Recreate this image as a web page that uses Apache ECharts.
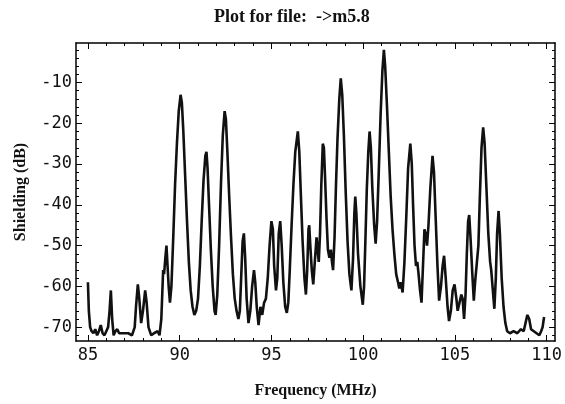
<!DOCTYPE html>
<html>
<head>
<meta charset="utf-8">
<script src="https://cdn.jsdelivr.net/npm/echarts@6/dist/echarts.min.js"></script>
<style>
  html, body { margin: 0; padding: 0; background: #fff; }
  #chart { width: 565px; height: 404px; }
</style>
</head>
<body>
<div id="chart"></div>
<script>
// frequency (MHz) and shielding (dB)
const freq = [
  85.0, 85.05, 85.12, 85.2, 85.3, 85.4, 85.5, 85.6, 85.7, 85.8, 85.9, 86.0, 86.1, 86.18, 86.25, 86.32, 86.4, 86.5,
  86.6, 86.7, 86.8, 87.0, 87.2, 87.4, 87.55, 87.62, 87.72, 87.8, 87.9, 88.0, 88.12, 88.2, 88.3, 88.45, 88.6, 88.8,
  88.9, 89.0, 89.05, 89.1, 89.15, 89.22, 89.28, 89.34, 89.4, 89.47, 89.55, 89.65, 89.75, 89.85, 89.95, 90.05, 90.12,
  90.2, 90.3, 90.4, 90.5, 90.6, 90.7, 90.8, 90.9, 91.0, 91.1, 91.2, 91.3, 91.4, 91.46, 91.52, 91.6, 91.7, 91.8, 91.9,
  91.96, 92.05, 92.15, 92.25, 92.35, 92.45, 92.52, 92.6, 92.7, 92.8, 92.9, 93.0, 93.1, 93.2, 93.28, 93.35, 93.43,
  93.5, 93.57, 93.65, 93.75, 93.85, 93.95, 94.05, 94.12, 94.2, 94.3, 94.4, 94.5, 94.6, 94.7, 94.8, 94.9, 95.0, 95.08,
  95.15, 95.25, 95.32, 95.4, 95.48, 95.56, 95.65, 95.75, 95.84, 95.92, 96.0, 96.1, 96.2, 96.3, 96.44, 96.52, 96.6,
  96.7, 96.8, 96.88, 96.95, 97.02, 97.06, 97.12, 97.2, 97.28, 97.38, 97.46, 97.52, 97.58, 97.65, 97.72, 97.8, 97.86,
  97.93, 98.0, 98.08, 98.16, 98.24, 98.3, 98.36, 98.44, 98.52, 98.6, 98.7, 98.78, 98.86, 98.95, 99.05, 99.15, 99.25,
  99.36, 99.45, 99.52, 99.57, 99.63, 99.72, 99.85, 99.98, 100.05, 100.12, 100.2, 100.28, 100.35, 100.42, 100.5,
  100.6, 100.68, 100.76, 100.85, 100.95, 101.05, 101.13, 101.2, 101.3, 101.4, 101.5, 101.6, 101.7, 101.8, 101.9,
  101.97, 102.05, 102.15, 102.25, 102.35, 102.45, 102.57, 102.65, 102.72, 102.8, 102.88, 102.95, 103.02, 103.1,
  103.18, 103.26, 103.34, 103.4, 103.48, 103.56, 103.66, 103.78, 103.86, 103.95, 104.05, 104.14, 104.24, 104.33,
  104.41, 104.5, 104.6, 104.68, 104.78, 104.88, 104.98, 105.08, 105.15, 105.25, 105.35, 105.42, 105.5, 105.58,
  105.65, 105.72, 105.78, 105.85, 105.95, 106.03, 106.1, 106.2, 106.28, 106.36, 106.45, 106.54, 106.62, 106.72,
  106.82, 106.92, 106.98, 107.05, 107.15, 107.23, 107.3, 107.38, 107.45, 107.55, 107.65, 107.75, 107.85, 108.0,
  108.2, 108.4, 108.6, 108.75, 108.85, 108.95, 109.05, 109.15, 109.3, 109.45, 109.6, 109.7, 109.78, 109.86
]
const shielding = [
  -59, -66, -70, -71, -71.5, -70.5, -72, -71, -69.5, -71.5, -72, -71, -70, -66, -61, -68, -72, -71,
  -70.5, -71.5, -71.5, -71.5, -71.5, -72, -70, -65, -59.5, -63, -69, -66, -61, -64, -70, -72, -71.5, -71,
  -72, -68, -62, -56, -57, -53, -50, -55, -60, -64, -60, -48, -35, -25, -17, -13, -15,
  -22, -33, -44, -54, -61, -65, -67, -66, -63, -55, -44, -34, -28, -27, -31, -40, -51, -60, -66,
  -67, -62, -50, -35, -23, -17, -19, -27, -38, -48, -57, -63, -66, -68, -66, -58, -49,
  -47, -53, -63, -69, -66, -60, -56, -59, -65, -69.5, -65, -67, -64, -63, -58, -50, -44, -46,
  -55, -61, -58, -47, -44, -50, -59, -65, -66.5, -64, -56, -45, -35, -27, -22, -27, -37,
  -49, -58, -62, -56, -46, -45, -50, -56, -59.5, -53, -48, -48, -54, -47, -35, -25, -26,
  -34, -43, -51, -53, -51, -54, -56, -48, -35, -24, -14, -9, -13, -23, -37, -49, -57,
  -61, -53, -42, -38, -42, -52, -60, -64.5, -60, -49, -36, -27, -22, -26, -36,
  -45, -49.5, -44, -32, -18, -7, -2, -6, -16, -27, -38, -46, -52, -57, -59,
  -60.5, -59, -61.5, -54, -43, -31, -25, -30, -40, -50, -55, -54, -57, -61,
  -64, -55, -46, -47, -50, -45, -36, -28, -32, -43, -55, -63.5, -60, -55,
  -52.5, -58, -65, -68.5, -66, -61, -59.5, -63, -66, -64, -62, -63, -68, -62,
  -52, -44, -42.5, -48, -57, -63.5, -59, -54, -50, -38, -26, -21, -25, -36,
  -47, -54, -56, -60, -65.5, -58, -47, -41.5, -47, -58, -65, -69, -71, -71.5,
  -71, -71.5, -70.5, -71, -69, -67, -68, -70.5, -71, -71.5, -72, -71, -70, -67.5
]
const xTicks = [85, 90, 95, 100, 105, 110]
const xMinor = [85, 86, 87, 88, 89, 90, 91, 92, 93, 94, 95, 96, 97, 98, 99, 100, 101, 102, 103, 104, 105, 106, 107, 108, 109, 110]
const yTicks = [-70, -60, -50, -40, -30, -20, -10]
const yMinor = [-72, -70, -68, -66, -64, -62, -60, -58, -56, -54, -52, -50, -48, -46, -44, -42, -40, -38, -36, -34,
  -32, -30, -28, -26, -24, -22, -20, -18, -16, -14, -12, -10, -8, -6, -4, -2]

const xMin = 84.35, xMax = 110.46
const yMin = -73.4, yMax = -0.3

const myChart = echarts.init(document.getElementById('chart'))

const tickFont = { fontFamily: 'DejaVu Sans Mono', fontSize: 17, color: '#111' }
const frameLine = { show: true, lineStyle: { color: '#000', width: 1.5 } }

function xAx(pos, ticks, len, labels) {
  return {
    type: 'value', position: pos, min: xMin, max: xMax,
    axisLine: labels ? frameLine : { show: false },
    axisTick: { show: true, inside: true, length: len, customValues: ticks, lineStyle: { color: '#000' } },
    axisLabel: labels ? Object.assign({ show: true, customValues: ticks, margin: 6 }, tickFont) : { show: false },
    splitLine: { show: false }
  }
}
function yAx(pos, ticks, len, labels) {
  return {
    type: 'value', position: pos, min: yMin, max: yMax,
    axisLine: labels ? frameLine : { show: false },
    axisTick: { show: true, inside: true, length: len, customValues: ticks, lineStyle: { color: '#000' } },
    axisLabel: labels ? Object.assign({ show: true, customValues: ticks, margin: 4 }, tickFont) : { show: false },
    splitLine: { show: false }
  }
}

const xBottom = xAx('bottom', xTicks, 6, true)
xBottom.name = 'Frequency (MHz)'
xBottom.nameLocation = 'middle'
xBottom.nameGap = 42
xBottom.nameTextStyle = { fontFamily: 'Liberation Serif', fontWeight: 'bold', fontSize: 16, color: '#111' }
const xTop = xAx('top', xTicks, 6, false)
xTop.axisLine = frameLine

const yLeft = yAx('left', yTicks, 6, true)
yLeft.name = 'Shielding (dB)'
yLeft.nameLocation = 'middle'
yLeft.nameGap = 47
yLeft.nameTextStyle = { fontFamily: 'Liberation Serif', fontWeight: 'bold', fontSize: 16, color: '#111' }
const yRight = yAx('right', yTicks, 6, false)
yRight.axisLine = frameLine

myChart.setOption({
  animation: false,
  title: {
    text: 'Plot for file:  ->m5.8',
    left: 209,
    top: 3,
    textStyle: { fontFamily: 'Liberation Serif', fontWeight: 'bold', fontSize: 18, color: '#111' }
  },
  grid: { left: 76, right: 7, top: 43, bottom: 60 },
  xAxis: [xBottom, xAx('bottom', xMinor, 3, false), xTop, xAx('top', xMinor, 3, false)],
  yAxis: [yLeft, yAx('left', yMinor, 3, false), yRight, yAx('right', yMinor, 3, false)],
  series: [
    {
      type: 'line',
      xAxisIndex: 0,
      yAxisIndex: 0,
      data: freq.map((f, i) => [f, shielding[i]]),
      showSymbol: false,
      lineStyle: { color: '#111', width: 2.6 }
    }
  ]
})
</script>
</body>
</html>
